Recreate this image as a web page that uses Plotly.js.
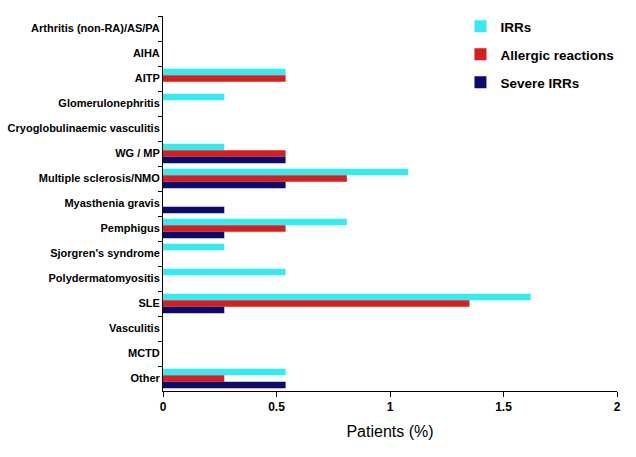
<!DOCTYPE html>
<html>
<head>
<meta charset="utf-8">
<script src="https://cdn.plot.ly/plotly-3.0.1.min.js"></script>
<style>html,body{margin:0;padding:0;background:#fff}#chart{width:636px;height:457px}</style>
</head>
<body>
<div id="chart"></div>
<script>
var categories = ["Arthritis (non-RA)/AS/PA","AIHA","AITP","Glomerulonephritis","Cryoglobulinaemic vasculitis","WG / MP","Multiple sclerosis/NMO","Myasthenia gravis","Pemphigus","Sjorgren's syndrome","Polydermatomyositis","SLE","Vasculitis","MCTD","Other"];
var irrs     = [0, 0, 0.54, 0.27, 0, 0.27, 1.08, 0,    0.81, 0.27, 0.54, 1.62, 0, 0, 0.54];
var allergic = [0, 0, 0.54, 0,    0, 0.54, 0.81, 0,    0.54, 0,    0,    1.35, 0, 0, 0.27];
var severe   = [0, 0, 0,    0,    0, 0.54, 0.54, 0.27, 0.27, 0,    0,    0.27, 0, 0, 0.54];
var seriesNames = ["IRRs", "Allergic reactions", "Severe IRRs"];
var xTicks = [0, 0.5, 1, 1.5, 2];
var xTickText = ["0", "0.5", "1", "1.5", "2"];

var colors = ["#33EBF0", "#D91C1C", "#0B0B6E"];
var series = [irrs, allergic, severe];
var traces = series.map(function(v, i){
  return {type:'bar', orientation:'h', x:v, y:categories, name:seriesNames[i],
          legendgroup:'g'+i, marker:{color:colors[i], line:{width:0}}, hoverinfo:'x+y'};
});

var layout = {
  width:636, height:457,
  margin:{l:163, r:19, t:16, b:66, autoexpand:false},
  paper_bgcolor:'#fff', plot_bgcolor:'#fff',
  font:{family:'"Liberation Sans", Arial, sans-serif', color:'#000'},
  barmode:'group', bargap:0.22, bargroupgap:0,
  xaxis:{range:[0,2], tickvals:xTicks, ticktext:xTickText, showgrid:false, zeroline:false,
         showline:true, linecolor:'#000', linewidth:1, ticks:'outside', ticklen:5, tickcolor:'#000',
         tickfont:{size:12, weight:'bold'},
         title:{text:'Patients (%)', font:{size:16}, standoff:12}},
  yaxis:{type:'category', autorange:'reversed', showgrid:false, zeroline:false,
         showline:true, linecolor:'#000', linewidth:1, ticks:'outside', ticklen:4, tickcolor:'#000',
         tickson:'boundaries', tickfont:{size:11, weight:'bold'}},
  showlegend:true,
  legend:{xref:'container', yref:'container', x:0.724, xanchor:'left', y:0.976, yanchor:'top',
          traceorder:'grouped', tracegroupgap:7.5,
          itemwidth:30, font:{size:13.5, weight:'bold'}, bgcolor:'rgba(0,0,0,0)'}
};
Plotly.newPlot('chart', traces, layout, {displayModeBar:false, staticPlot:true});
</script>
</body>
</html>
